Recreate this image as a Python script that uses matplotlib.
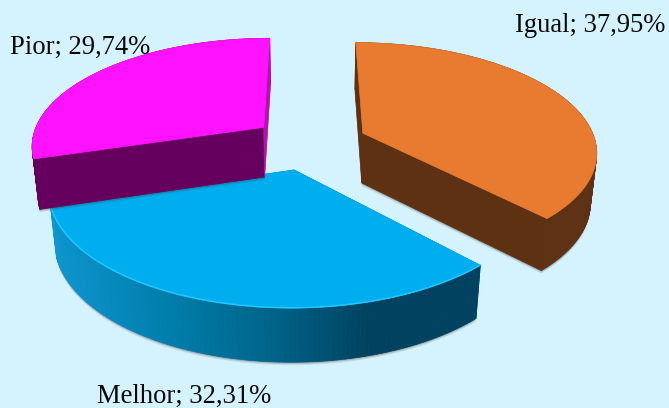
#!/usr/bin/env python
"""
Exploded 3D pie chart (Igual / Melhor / Pior) drawn with polygons
"""

import numpy as np
import matplotlib
matplotlib.use("Agg")
import matplotlib.pyplot as plt
from matplotlib.colors import LinearSegmentedColormap
from matplotlib.patches import Polygon

labels = ["Igual", "Melhor", "Pior"]
values = [37.95, 32.31, 29.74]
value_texts = ["37,95%", "32,31%", "29,74%"]

top_colors = ["#e97b30", "#00aeef", "#ff12ff"]
wall_colors = ["#5e3113", "#00709a", "#65005e"]

bg_color = "#d5f3ff"

# projection settings, in pixels of the 669x408 image
cx, cy = 309.5, 143
scale_x, scale_y = 233, 107.4
persp_y = 0.155
persp_z = 0.022
depth = 50
depth_persp = 0.06
explode = 0.25


def project(x, y, z=0.0):
    """Disk coordinates to screen pixels; z=1 is the bottom of the pie"""
    y = np.asarray(y)
    z = np.asarray(z)
    w = 1 + persp_y * y + persp_z * z
    sx = cx + scale_x * np.asarray(x) / w
    sy = cy - scale_y * y / (1 + persp_y * y) + depth * z / (1 + depth_persp * y)
    return np.column_stack([sx, sy])


fig = plt.figure(figsize=(6.69, 4.08), dpi=100, facecolor=bg_color)
ax = fig.add_axes([0, 0, 1, 1])
ax.set_xlim(0, 669)
ax.set_ylim(408, 0)
ax.axis("off")

blue_wall = LinearSegmentedColormap.from_list(
    "blue_wall", ["#0d96d0", "#0080ae", "#00668c", "#00425f", "#00425f"])

# slice angles, clockwise from 12 o'clock
edges = np.concatenate([[0], np.cumsum(values)]) / np.sum(values) * 2 * np.pi

# back slices first, blue one is in front
for i in [2, 0, 1]:
    a0, a1 = edges[i], edges[i + 1]
    mid = (a0 + a1) / 2
    ox, oy = explode * np.sin(mid), explode * np.cos(mid)
    t = np.linspace(a0, a1, 120)
    arc_x = ox + np.sin(t)
    arc_y = oy + np.cos(t)
    zero = np.zeros_like(t)

    top = np.vstack([project(ox, oy), project(arc_x, arc_y, zero)])
    bottom = np.vstack([project(ox, oy, 1.0), project(arc_x, arc_y, zero + 1)])

    # soft shadow under the slice
    for off, alpha in [(3.0, 0.12), (1.8, 0.2), (0.8, 0.3)]:
        ax.add_patch(Polygon(bottom + [0, off], closed=True, facecolor="#404040",
                             edgecolor="none", alpha=alpha, zorder=i * 3))

    # cut walls
    for k in [1, len(top) - 1]:
        quad = np.vstack([top[0], top[k], bottom[k], bottom[0]])
        color = wall_colors[i]
        z = i * 3 + 1
        if labels[i] == "Pior" and k == len(top) - 1:
            color = "#b810b0"  # the thin sliver on the right is lighter
            z = i * 3 + 1.5
        ax.add_patch(Polygon(quad, closed=True, facecolor=color,
                             edgecolor=color, linewidth=0.5, zorder=z))

    # outer wall, one strip per arc step so the blue one can be shaded
    for k in range(1, len(top) - 1):
        quad = np.vstack([top[k], top[k + 1], bottom[k + 1], bottom[k]])
        if labels[i] == "Melhor":
            # arc runs right to left here
            frac = (top[k, 0] - top[-1, 0]) / (top[1, 0] - top[-1, 0])
            color = blue_wall(frac)
        else:
            color = wall_colors[i]
        ax.add_patch(Polygon(quad, closed=True, facecolor=color, edgecolor=color,
                             linewidth=0.5, zorder=i * 3 + 1))

    ax.add_patch(Polygon(top, closed=True, facecolor=top_colors[i], edgecolor=top_colors[i],
                         linewidth=0.5, zorder=i * 3 + 2))

    # thin bright bevel on the blue rim
    if labels[i] == "Melhor":
        ax.plot(top[1:, 0], top[1:, 1] - 0.5, color="#25c6ff", linewidth=1.0, zorder=i * 3 + 2)

# data labels
font = {"family": ["Liberation Serif", "DejaVu Serif"], "fontsize": 19.2, "color": "#0a0a0a", "zorder": 20}
ax.text(515, 26, f"{labels[0]}; {value_texts[0]}", ha="left", va="center", **font)
ax.text(97, 396, f"{labels[1]}; {value_texts[1]}", ha="left", va="center", **font)
ax.text(10, 47, f"{labels[2]}; {value_texts[2]}", ha="left", va="center", **font)

fig.savefig("out.png", dpi=100, facecolor=bg_color)
